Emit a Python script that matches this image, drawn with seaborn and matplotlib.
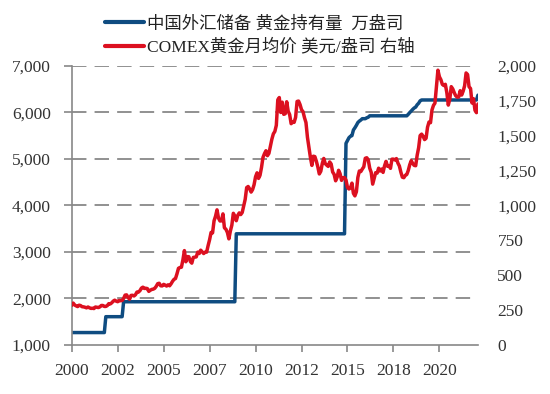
import numpy as np
import pandas as pd
import matplotlib.pyplot as plt
import seaborn as sns
from matplotlib.lines import Line2D

sns.set_theme(style="white")
plt.rcParams['font.family'] = ['Liberation Serif', 'Noto Sans CJK SC']
plt.rcParams['axes.unicode_minus'] = False

months = pd.date_range('2000-01-01', '2022-11-01', freq='MS')

# 中国外汇储备黄金持有量（万盎司）：只记录变动月份，其余月份持有量不变
reserve_changes = {
	'2000-01': 1267, '2001-12': 1608, '2002-12': 1929, '2009-04': 3389,
	'2015-06': 5332, '2015-07': 5393, '2015-08': 5453, '2015-09': 5484,
	'2015-10': 5498, '2015-11': 5619, '2015-12': 5666, '2016-01': 5719,
	'2016-02': 5779, '2016-03': 5810, '2016-04': 5833, '2016-05': 5862,
	'2016-08': 5881, '2016-09': 5894, '2016-10': 5924, '2018-12': 5956,
	'2019-01': 5994, '2019-02': 6026, '2019-03': 6062, '2019-04': 6092,
	'2019-05': 6111, '2019-06': 6161, '2019-07': 6194, '2019-08': 6245,
	'2019-09': 6264, '2022-11': 6367,
}

# COMEX黄金月均价（美元/盎司）
gold_price = [
	284, 300, 286, 280, 275, 285, 282, 274, 273, 270, 266, 272,
	266, 262, 263, 261, 272, 270, 268, 273, 283, 283, 276, 276,
	282, 296, 294, 302, 314, 321, 314, 310, 319, 317, 319, 333,
	357, 359, 340, 328, 355, 356, 351, 360, 379, 379, 389, 407,
	414, 405, 406, 404, 384, 392, 398, 400, 406, 420, 439, 442,
	424, 423, 434, 429, 422, 431, 424, 438, 456, 470, 476, 510,
	549, 555, 557, 610, 676, 596, 633, 632, 598, 586, 627, 629,
	631, 665, 655, 679, 667, 655, 665, 665, 712, 754, 806, 803,
	889, 922, 968, 909, 888, 889, 939, 839, 829, 806, 760, 816,
	858, 943, 924, 890, 928, 946, 934, 949, 996, 1043, 1127, 1135,
	1118, 1095, 1113, 1148, 1205, 1233, 1193, 1215, 1271, 1343, 1370, 1391,
	1356, 1372, 1424, 1474, 1512, 1529, 1573, 1756, 1772, 1665, 1739, 1652,
	1656, 1742, 1674, 1650, 1585, 1596, 1594, 1630, 1744, 1747, 1722, 1685,
	1671, 1628, 1593, 1487, 1414, 1343, 1286, 1352, 1349, 1316, 1275, 1225,
	1244, 1300, 1336, 1299, 1288, 1279, 1311, 1296, 1239, 1222, 1176, 1201,
	1251, 1227, 1179, 1198, 1199, 1181, 1128, 1117, 1125, 1159, 1086, 1068,
	1097, 1200, 1246, 1242, 1260, 1276, 1337, 1341, 1326, 1266, 1236, 1152,
	1192, 1234, 1231, 1266, 1246, 1260, 1236, 1283, 1315, 1280, 1283, 1265,
	1331, 1331, 1325, 1335, 1303, 1282, 1238, 1202, 1198, 1215, 1221, 1250,
	1291, 1320, 1300, 1286, 1284, 1359, 1413, 1500, 1510, 1495, 1471, 1480,
	1560, 1597, 1592, 1683, 1716, 1732, 1846, 1968, 1921, 1900, 1866, 1858,
	1867, 1808, 1718, 1760, 1850, 1834, 1807, 1785, 1775, 1776, 1821, 1790,
	1817, 1856, 1948, 1937, 1849, 1837, 1733, 1764, 1681, 1664, 1726,
]

label_res = '中国外汇储备 黄金持有量  万盎司'
label_gold = 'COMEX黄金月均价 美元/盎司 右轴'
blue = '#0F4C81'
red = '#DC1020'
gray = '#888888'

res = pd.Series(reserve_changes)
res.index = pd.to_datetime(res.index)
df = pd.DataFrame({'month': months})
df['reserve'] = res.reindex(months).ffill().values
df['gold'] = gold_price
df['i'] = np.arange(len(df))

fig = plt.figure(figsize=(5.5, 3.94), dpi=100)
ax = fig.add_axes([0.1304, 0.1244, 0.869 - 0.1304, 0.8332 - 0.1244])
ax2 = ax.twinx()

sns.lineplot(data=df, x='i', y='reserve', ax=ax, color=blue, lw=2.5)
sns.lineplot(data=df, x='i', y='gold', ax=ax2, color=red, lw=2.5)

ax.set_xlim(0, len(df) - 1)
ax.set_ylim(1000, 7000)
ax2.set_ylim(0, 2000)
ticks = np.arange(0, len(df), 31)
ax.set_xticks(ticks)
ax.set_xticklabels([str(m.year) for m in df['month'].iloc[ticks]])
ax.set_yticks(np.arange(1000, 7001, 1000))
ax.yaxis.set_major_formatter(plt.FuncFormatter(lambda v, p: f'{v:,.0f}'))
ax2.set_yticks(np.arange(0, 2001, 250))
ax2.yaxis.set_major_formatter(plt.FuncFormatter(lambda v, p: f'{v:,.0f}'))
ax.set(xlabel='', ylabel='')
ax2.set(xlabel='', ylabel='')

for yv in np.arange(2000, 7001, 1000):
	ax.axhline(yv, color=gray, lw=1.3, ls=(0, (8, 4.5)), zorder=0)

for a in (ax, ax2):
	for s in a.spines.values():
		s.set_visible(False)
ax.spines['left'].set_visible(True)
ax.spines['bottom'].set_visible(True)
ax.spines['left'].set_color(gray)
ax.spines['bottom'].set_color(gray)
ax.spines['left'].set_linewidth(1.2)
ax.spines['bottom'].set_linewidth(1.2)

ax.tick_params(axis='y', left=True, length=6, width=1.2, color=gray, pad=9, labelsize=12.5, labelcolor='#333333')
ax.tick_params(axis='x', bottom=True, length=5, width=1.2, color=gray, pad=8, labelsize=12.5, labelcolor='#333333')
ax2.tick_params(axis='y', right=False, length=0, pad=14, labelsize=12.5, labelcolor='#333333')

handles = [Line2D([], [], color=blue, lw=3), Line2D([], [], color=red, lw=3)]
fig.legend(handles, [label_res, label_gold], loc='upper left', bbox_to_anchor=(0.168, 0.99),
	frameon=False, fontsize=12.5, handlelength=2.3, handletextpad=0.15, labelspacing=0.38,
	labelcolor='#222222', borderaxespad=0.3)

fig.savefig('out.png', dpi=100)
